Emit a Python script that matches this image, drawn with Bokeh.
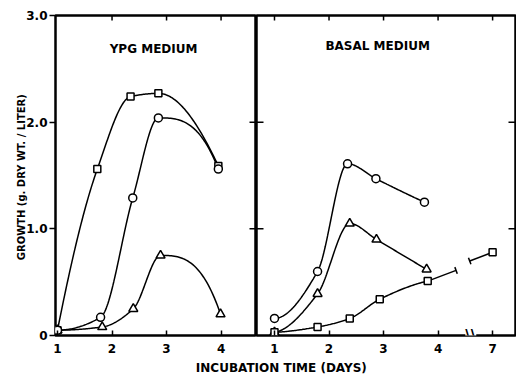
import numpy as np
from bokeh.plotting import figure
from bokeh.models import FixedTicker, Label, ColumnDataSource
from bokeh.layouts import row, column
from bokeh.embed import file_html
from bokeh.resources import INLINE

# ---------------- data ----------------
# YPG medium (days)
ypg_sq_x = [1.0, 1.73, 2.34, 2.85, 3.95]
ypg_sq_y = [0.05, 1.56, 2.24, 2.27, 1.59]
ypg_ci_x = [1.0, 1.79, 2.38, 2.85, 3.95]
ypg_ci_y = [0.05, 0.17, 1.29, 2.04, 1.56]
ypg_tr_x = [1.0, 1.82, 2.39, 2.89, 3.99]
ypg_tr_y = [0.05, 0.08, 0.25, 0.75, 0.20]

# Basal medium (days); day 7 plotted at axis position 5 (broken axis)
bas_ci_x = [1.0, 1.79, 2.34, 2.86, 3.75]
bas_ci_y = [0.16, 0.60, 1.61, 1.47, 1.25]
bas_tr_x = [1.0, 1.79, 2.38, 2.87, 3.79]
bas_tr_y = [0.03, 0.39, 1.05, 0.90, 0.62]
bas_sq_x = [1.0, 1.79, 2.38, 2.93, 3.81]
bas_sq_y = [0.03, 0.08, 0.16, 0.34, 0.51]
bas_sq_day7_pos = 5.0
bas_sq_day7_y = 0.78

left_xticks = [1, 2, 3, 4]
left_top_ticks = [2, 3, 4]
right_xticks = [1, 2, 3, 4, 5]
right_xlabels = ["1", "2", "3", "4", "7"]
yticks = [0, 1, 2, 3]
ylabels = ["0", "1.0", "2.0", "3.0"]
inner_yticks = [1, 2]

FONT = "DejaVu Sans"
LX = (0.963, 4.65)
RX = (0.67, 5.42)
YR = (0, 3.0)

H = 358
TOP, BOT = 15, 23
LW, LB = 256, 55
RW, RB = 260, 1
FH = H - TOP - BOT
KY = FH / (YR[1] - YR[0])                     # px per unit y
KXL = (LW - LB) / (LX[1] - LX[0])             # px per day, left
KXR = (RW - RB) / (RX[1] - RX[0])             # px per day, right


def pchip(x, y, n=40):
    x = np.asarray(x, float)
    y = np.asarray(y, float)
    h = np.diff(x)
    d = np.diff(y) / h
    m = np.zeros_like(y)
    for k in range(1, len(x) - 1):
        if d[k - 1] * d[k] > 0:
            w1 = 2 * h[k] + h[k - 1]
            w2 = h[k] + 2 * h[k - 1]
            m[k] = (w1 + w2) / (w1 / d[k - 1] + w2 / d[k])

    def end(h0, h1, d0, d1):
        mm = ((2 * h0 + h1) * d0 - h0 * d1) / (h0 + h1)
        if np.sign(mm) != np.sign(d0):
            return 0.0
        if np.sign(d0) != np.sign(d1) and abs(mm) > abs(3 * d0):
            return 3 * d0
        return mm

    m[0] = end(h[0], h[1], d[0], d[1])
    m[-1] = end(h[-1], h[-2], d[-1], d[-2])
    xs, ys = [], []
    for k in range(len(x) - 1):
        t = np.linspace(0, 1, n)
        h00 = 2 * t**3 - 3 * t**2 + 1
        h10 = t**3 - 2 * t**2 + t
        h01 = -2 * t**3 + 3 * t**2
        h11 = t**3 - t**2
        xs.extend(x[k] + t * h[k])
        ys.extend(h00 * y[k] + h10 * h[k] * m[k] + h01 * y[k + 1] + h11 * h[k] * m[k + 1])
    return xs, ys


def style_common(p):
    p.outline_line_color = "black"
    p.outline_line_width = 2.5
    p.xgrid.visible = False
    p.ygrid.visible = False
    p.background_fill_color = "white"
    p.border_fill_color = "white"


def style_xaxis(ax, ticks, labels):
    ax.ticker = FixedTicker(ticks=ticks)
    ax.major_label_overrides = {t: l for t, l in zip(ticks, labels)}
    ax.major_tick_in = 5
    ax.major_tick_out = 0
    ax.major_tick_line_width = 1.5
    ax.major_tick_line_color = "black"
    ax.minor_tick_line_color = None
    ax.axis_line_color = None
    ax.major_label_standoff = 8
    ax.major_label_text_font = FONT
    ax.major_label_text_font_style = "bold"
    ax.major_label_text_font_size = "12px"
    ax.major_label_text_color = "black"


def hticks(p, x_edge, dx_px, kx, ys):
    # horizontal inward tick marks on a vertical frame edge
    x1 = x_edge + dx_px / kx
    p.segment(x0=[x_edge] * len(ys), y0=ys, x1=[x1] * len(ys), y1=ys,
              line_color="black", line_width=1.5)


def vticks(p, xs, y_edge, dy_px):
    y1 = y_edge + dy_px / KY
    p.segment(x0=xs, y0=[y_edge] * len(xs), x1=xs, y1=[y1] * len(xs),
              line_color="black", line_width=1.5)


def draw_series(p, xs, ys):
    cx, cy = pchip(xs, ys)
    p.line(cx, cy, line_color="black", line_width=1.5)


def draw_markers(p, xs, ys, marker, size):
    src = ColumnDataSource(dict(x=xs, y=ys))
    p.scatter("x", "y", source=src, marker=marker, size=size,
              line_color="black", line_width=1.5, fill_color="white")


# ---------------- left panel ----------------
left = figure(width=LW, height=H, x_range=LX, y_range=YR,
              min_border_left=LB, min_border_right=0, min_border_top=TOP,
              min_border_bottom=BOT, toolbar_location=None, output_backend="svg")
style_common(left)
style_xaxis(left.xaxis[0], left_xticks, [str(t) for t in left_xticks])
ya = left.yaxis[0]
ya.ticker = FixedTicker(ticks=yticks)
ya.major_label_overrides = {t: l for t, l in zip(yticks, ylabels)}
ya.major_tick_out = 6
ya.major_tick_in = 0
ya.major_tick_line_width = 1.5
ya.major_tick_line_color = "black"
ya.minor_tick_line_color = None
ya.axis_line_color = None
ya.major_label_standoff = 2
ya.major_label_text_font = FONT
ya.major_label_text_font_style = "bold"
ya.major_label_text_font_size = "12px"
ya.major_label_text_color = "black"
ya.axis_label = "GROWTH  (g. DRY WT. / LITER)"
ya.axis_label_text_font = FONT
ya.axis_label_text_font_style = "bold"
ya.axis_label_text_font_size = "10px"
ya.axis_label_text_color = "black"
ya.axis_label_standoff = -4

vticks(left, left_top_ticks, YR[1], -5)
hticks(left, LX[1], -7, KXL, inner_yticks)

draw_series(left, ypg_sq_x, ypg_sq_y)
draw_series(left, ypg_ci_x, ypg_ci_y)
draw_series(left, ypg_tr_x, ypg_tr_y)
draw_markers(left, ypg_tr_x, ypg_tr_y, "triangle", 9)
draw_markers(left, ypg_sq_x, ypg_sq_y, "square", 7)
draw_markers(left, ypg_ci_x, ypg_ci_y, "circle", 8)

left.add_layout(Label(x=2.80, y=2.69, text="YPG  MEDIUM", text_align="center",
                      text_baseline="middle", text_font=FONT, text_color="black",
                      text_font_style="bold", text_font_size="12px"))

# ---------------- right panel ----------------
right = figure(width=RW, height=H, x_range=RX, y_range=YR,
               min_border_left=0, min_border_right=RB, min_border_top=TOP,
               min_border_bottom=BOT, toolbar_location=None, output_backend="svg")
style_common(right)
style_xaxis(right.xaxis[0], right_xticks, right_xlabels)
right.yaxis.visible = False

vticks(right, right_xticks, YR[1], -5)
hticks(right, RX[0], 7, KXR, inner_yticks)
hticks(right, RX[1], -7, KXR, inner_yticks)

draw_series(right, bas_ci_x, bas_ci_y)
draw_series(right, bas_tr_x, bas_tr_y)
draw_series(right, bas_sq_x, bas_sq_y)

# broken-axis continuation of the square series
slope = (bas_sq_y[-1] - bas_sq_y[-2]) / (bas_sq_x[-1] - bas_sq_x[-2])
brk_a, brk_b = 4.33, 4.58
ya1 = bas_sq_y[-1] + slope * (brk_a - bas_sq_x[-1])
yb1 = bas_sq_day7_y - slope * (bas_sq_day7_pos - brk_b)
right.line([bas_sq_x[-1], brk_a], [bas_sq_y[-1], ya1], line_color="black", line_width=1.5)
right.line([brk_b, bas_sq_day7_pos], [yb1, bas_sq_day7_y], line_color="black", line_width=1.5)
ang = float(np.arctan(slope * KY / KXR) + np.pi / 2)
right.scatter([brk_a, brk_b], [ya1, yb1], marker="dash", size=7, angle=ang,
              line_color="black", line_width=1.5)

draw_markers(right, bas_ci_x, bas_ci_y, "circle", 8)
draw_markers(right, bas_tr_x, bas_tr_y, "triangle", 9)
draw_markers(right, bas_sq_x + [bas_sq_day7_pos], bas_sq_y + [bas_sq_day7_y], "square", 7)

right.add_layout(Label(x=2.93, y=2.71, text="BASAL  MEDIUM", text_align="center",
                       text_baseline="middle", text_font=FONT, text_color="black",
                       text_font_style="bold", text_font_size="12px"))
right.add_layout(Label(x=4.6, y=0, text="\\\\", text_align="center",
                       text_baseline="middle", text_font=FONT, text_color="black",
                       text_font_style="bold", text_font_size="15px",
                       background_fill_color="white"))

# ---------------- x-axis title strip ----------------
tf = figure(width=516, height=18, x_range=(0, 516), y_range=(0, 18),
            min_border=0, toolbar_location=None, output_backend="svg")
tf.axis.visible = False
tf.grid.visible = False
tf.outline_line_color = None
tf.add_layout(Label(x=285, y=9, x_units="screen", y_units="screen",
                    text="INCUBATION  TIME  (DAYS)", text_align="center",
                    text_baseline="middle", text_font=FONT, text_color="black",
                    text_font_style="bold", text_font_size="12px"))

layout = column(row(left, right), tf)
open("out.html", "w").write(file_html(layout, INLINE))
